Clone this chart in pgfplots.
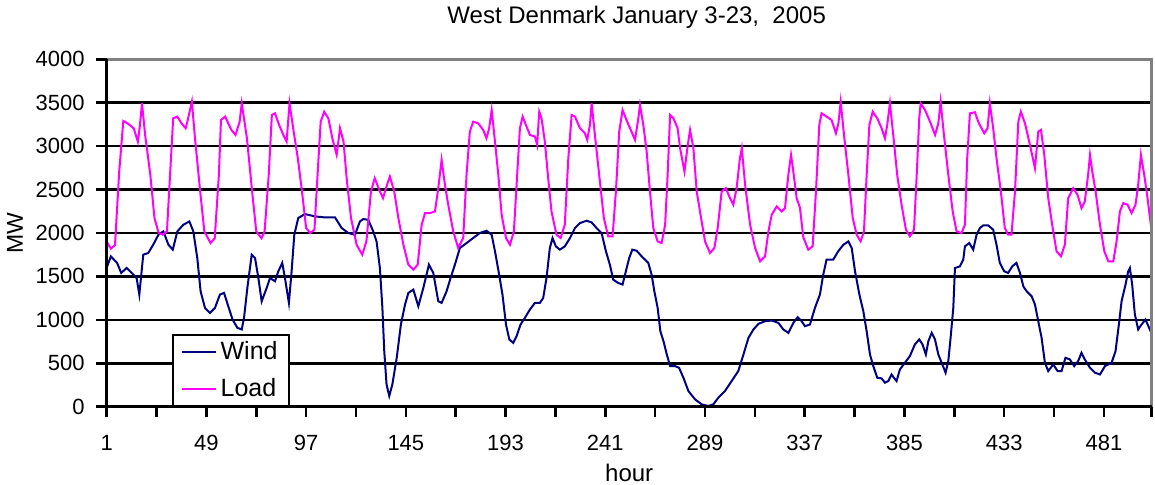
\documentclass[border=0pt]{standalone}
\usepackage{fontspec}
\setmainfont{Liberation Sans}
\usepackage{pgfplots}
\pgfplotsset{compat=1.18}
\definecolor{windc}{RGB}{0,0,128}
\definecolor{loadc}{RGB}{255,0,255}
\definecolor{bordc}{RGB}{128,128,128}

\begin{document}
\begin{tikzpicture}
\begin{axis}[
  scale only axis, width=522.5pt, height=173.7pt,
  xmin=1, xmax=504, ymin=0, ymax=4000,
  clip=false,
  axis line style={draw=none},
  xtick={1,25,...,481,504},
  xticklabels={1,,49,,97,,145,,193,,241,,289,,337,,385,,433,,481,},
  ytick={0,500,...,4000},
  xtick pos=bottom, ytick pos=left,
  tick align=outside, major tick length=5.25pt,
  tick style={black, line width=1.3pt},
  ymajorgrids, grid style={black, line width=1.3pt},
  /pgf/number format/assume math mode=true,
  /pgf/number format/1000 sep={},
  tick label style={font=\fontsize{11}{13}\selectfont},
  yticklabel style={inner sep=0pt, anchor=east, xshift=-5.6pt},
  xticklabel style={inner sep=0pt, anchor=north, yshift=-9pt},
  legend cell align=left,
  legend style={at={(rel axis cs:0.0628,0)}, anchor=south west,
    draw=black, line width=1pt, fill=white,
    font=\fontsize{12.5}{14}\selectfont,
    inner xsep=3.85pt, inner ysep=1pt, row sep=4pt},
  legend image code/.code={\draw[#1, line width=1.1pt] (0pt,0pt) -- (16.7pt,0pt);},
]
\addplot[windc, line width=1pt] coordinates {
(1,1600)(3,1731)(6,1655)(8,1540)(10.6,1597)(13,1540)(15.4,1482)(16.7,1291)(18.6,1750)(21,1770)
(23.4,1865)(25.9,1980)(28.3,2018)(30.7,1865)(32.8,1808)(35,2018)(37.9,2095)(40.8,2133)(42.7,2018)(44.6,1712)
(46.2,1329)(48.3,1137)(50.7,1080)(53.1,1137)(55.5,1291)(57.5,1310)(59.5,1157)(61.6,1003)(63.9,908)(66,889)
(67.1,1023)(68.7,1367)(70.8,1750)(72.4,1712)(74,1482)(75.6,1214)(78,1367)(79.6,1482)(82,1444)(83.6,1559)
(85.5,1655)(86.8,1482)(88.7,1195)(90,1559)(91.3,1980)(93.2,2172)(96.4,2218)(101.3,2191)(106.1,2179)(110.9,2179)
(114.1,2057)(117.3,2000)(120.5,1980)(122.9,2133)(124.5,2160)(126.9,2152)(129.3,2018)(130.9,1903)(132.5,1597)(133.7,1137)
(134.6,640)(135.7,257)(137,123)(138.5,257)(140.6,563)(142.6,946)(144.6,1176)(146.2,1310)(148.6,1348)(151,1157)
(153.4,1367)(156.1,1635)(158.2,1540)(160.6,1214)(162.2,1195)(164.6,1329)(166.5,1480)(168.6,1635)(171,1827)(174.2,1884)
(177.4,1942)(180.6,2000)(183.8,2026)(186.3,1980)(187.9,1789)(189.9,1520)(191.5,1291)(193.2,946)(194.8,774)(196.7,735)
(198.3,812)(200.2,946)(202.3,1023)(204.7,1118)(207.1,1195)(209.5,1195)(211.1,1252)(212.7,1482)(214.3,1827)(215.6,1942)
(217.2,1846)(219.1,1808)(221.5,1846)(224,1942)(226.4,2057)(228.8,2114)(232,2141)(234.4,2122)(236.8,2057)(239.2,2000)
(241.3,1789)(243.2,1635)(244.8,1463)(247.2,1425)(249.3,1406)(250.9,1559)(252.5,1712)(254,1808)(256.1,1796)(258.5,1731)
(261.7,1655)(263.3,1520)(264.6,1329)(266.2,1137)(267.5,869)(269,754)(270.6,601)(272.2,467)(274.6,467)(276.5,448)
(278.6,333)(281,180)(284.2,84)(287.4,27)(290.6,8)(293,27)(295.4,103)(298.6,180)(301.8,295)(305,410)
(307.5,601)(309.9,793)(312.3,889)(314.7,954)(317.9,984)(321.1,992)(324.3,965)(326.7,889)(329.1,850)(331.5,965)
(333.6,1030)(335.5,984)(337.1,927)(339.5,946)(341.9,1137)(344.3,1291)(345.9,1520)(347.5,1693)(350.7,1693)(353.1,1789)
(355.6,1865)(358,1903)(359.6,1827)(361.2,1559)(363.3,1291)(365.2,1099)(366.8,869)(368.4,601)(370,467)(371.9,333)
(374,326)(375.6,276)(377.2,295)(378.8,371)(379.9,333)(381.2,295)(382.8,429)(385.2,506)(387.6,582)(390,716)
(392.1,774)(393.7,716)(395.3,601)(396.5,754)(398.1,850)(399.7,774)(401.3,601)(402.9,506)(404.8,391)(406.1,525)
(407.2,793)(408.5,1137)(409.3,1597)(411.7,1616)(413.3,1693)(414.1,1846)(416.2,1884)(418.1,1808)(419.7,1980)(421.3,2057)
(422.9,2087)(425.3,2087)(427.7,2038)(429.3,1865)(430.9,1655)(433,1559)(434.9,1540)(436.9,1616)(438.9,1655)(440.6,1540)
(442.2,1386)(443.8,1329)(446.2,1272)(447.8,1176)(449.4,984)(451,793)(452.6,506)(454.2,410)(456.6,486)(458.7,410)
(460.6,410)(462.5,563)(464.6,544)(466.7,467)(468.6,525)(470.2,620)(471.8,544)(474.3,448)(476.7,391)(479.1,371)
(481.5,467)(484.7,506)(486.6,640)(488.2,946)(489.5,1214)(491.4,1406)(492.7,1559)(493.5,1597)(494.6,1406)(495.9,1061)
(497.5,889)(499.1,946)(501,1003)(503.1,889)(504,840)
};
\addlegendentry{Wind}
\addplot[loadc, line width=1pt] coordinates {
(1,1900)(3,1820)(5,1860)(7,2700)(9,3290)(11,3263)(14,3206)(16,3052)(17,3244)(18,3493)
(19.5,3129)(22,2670)(24,2172)(26,2000)(28,1980)(30,2018)(31.5,2670)(33,3320)(35,3340)(37,3263)
(39,3206)(40,3300)(42,3512)(43.5,3091)(46,2478)(48,2018)(51,1884)(53,1940)(55,2670)(56,3301)
(58,3340)(61,3187)(63,3129)(65,3282)(66,3493)(68.5,3091)(71,2478)(73,2018)(75.5,1940)(77,2018)
(79,2670)(80.5,3359)(82,3378)(84,3244)(86,3129)(87.6,3052)(89,3493)(91,3167)(93,2861)(95,2478)
(97,2057)(99,2000)(101,2038)(102.5,2670)(104,3282)(105.7,3397)(107.7,3320)(109.6,3091)(111.7,2899)(113.3,3206)
(115,3052)(116.5,2631)(118.6,2172)(121.3,1865)(124,1750)(126,1903)(128.2,2478)(130,2631)(132.5,2478)(134,2401)
(135.4,2516)(137.3,2650)(139.4,2478)(141.4,2172)(143.8,1865)(146.2,1635)(148.6,1578)(150.7,1635)(152.6,2095)(154.2,2229)
(156.6,2229)(159,2248)(160.6,2516)(162.2,2842)(163.8,2555)(165.4,2325)(167.8,2018)(170.2,1827)(172.6,1942)(174.2,2670)
(175.8,3167)(177.4,3282)(179.8,3263)(182.2,3187)(183.8,3091)(185.1,3206)(186.3,3416)(187.9,3052)(189.5,2670)(191.1,2210)
(193.2,1942)(195.1,1865)(197,2018)(198.3,2555)(199.9,3206)(201.2,3340)(202.8,3244)(204.7,3129)(207.1,3110)(208.2,3014)
(209.2,3397)(210.3,3320)(211.9,3052)(213.5,2631)(215.1,2248)(217.5,1980)(219.5,1942)(221.5,2095)(223.2,2861)(224.8,3359)
(226.4,3340)(228.8,3206)(231.2,3148)(232.3,3072)(233.6,3244)(234.4,3493)(236,3129)(238.4,2593)(240.3,2172)(242.4,1961)
(244.5,1961)(246.1,2478)(247.7,3167)(249.3,3416)(251.2,3301)(252.9,3206)(255.3,3072)(256.9,3320)(257.7,3474)(259.3,3244)
(260.9,2938)(262.5,2478)(264.1,2057)(266.2,1903)(268.1,1884)(269.8,2095)(271,2670)(272.2,3359)(273.8,3320)(275.8,3206)
(277,2976)(279.1,2708)(280.7,3014)(281.8,3187)(283.4,2976)(285,2478)(287.1,2172)(289,1903)(291.4,1770)(293.5,1827)
(295.1,2057)(297,2478)(299,2516)(301,2401)(302.6,2325)(304.2,2516)(305.8,2861)(306.7,2976)(308.3,2555)(310.7,2095)
(313.1,1827)(315.5,1674)(317.9,1731)(319.5,2018)(321.1,2210)(323.5,2306)(325.9,2248)(327.5,2287)(329.1,2670)(330.4,2899)
(331.5,2708)(333.1,2401)(334.7,2290)(336.3,1950)(338.7,1808)(340.8,1846)(342.4,2478)(344,3244)(345.1,3378)(347.5,3340)
(349.9,3301)(352,3148)(353.2,3263)(354.3,3512)(355.9,3129)(358,2670)(360.1,2172)(362,1980)(363.9,1903)(365.5,2018)
(366.8,2670)(368.1,3244)(369.7,3397)(371.9,3320)(374,3206)(375.6,3091)(376.7,3244)(378,3493)(379.6,3129)(381.5,2670)
(383.6,2325)(385.7,2038)(387.6,1961)(389.6,2038)(390.9,2670)(392.1,3320)(392.8,3493)(394.9,3416)(397.3,3282)(399.7,3129)
(401.3,3263)(402.4,3512)(404,3129)(406.1,2670)(408.2,2248)(410.1,2018)(412.5,2000)(414.1,2095)(415.2,2861)(416.5,3378)
(418.9,3390)(420.8,3263)(423.4,3148)(425,3206)(426.1,3493)(427.7,3206)(429.3,2861)(431.4,2478)(433.3,2057)(434.9,1980)
(436.5,1980)(438.2,2478)(439.8,3282)(441,3397)(443,3263)(445.4,3014)(447.8,2746)(449.4,3167)(450.7,3187)(452.3,2899)
(454.2,2401)(456.1,2095)(458.2,1789)(460.3,1731)(462.2,1865)(463.8,2401)(466.2,2516)(468.3,2440)(470.2,2287)(471.8,2363)
(473.4,2670)(474.3,2899)(475.4,2708)(477,2478)(479.1,2095)(481.2,1789)(483.1,1674)(485.5,1674)(487.1,1903)(488.7,2248)
(490.3,2344)(492.4,2325)(494.3,2229)(496.2,2325)(497.5,2555)(498.8,2899)(500.4,2670)(502,2401)(504,2018)
};
\addlegendentry{Load}
\draw[line width=1.3pt, bordc] (rel axis cs:0,1) -- (rel axis cs:1,1) -- (rel axis cs:1,0);
\draw[line width=1.3pt, black] (rel axis cs:0,1) -- (rel axis cs:0,0) -- (rel axis cs:1,0);
\end{axis}
\node[anchor=base, font=\fontsize{12}{14}\selectfont] at ([xshift=3.75pt,yshift=18pt]current axis.north) {West Denmark January 3-23,\ \ 2005};
\node[rotate=90, font=\fontsize{11.5}{13}\selectfont] at ([xshift=-45.85pt]current axis.west) {MW};
\node[anchor=base, font=\fontsize{12}{14}\selectfont] at ([yshift=-37.65pt]current axis.south) {hour};
\pgfresetboundingbox
\path[use as bounding box] ([xshift=-53.35pt,yshift=-39.15pt]current axis.south west) rectangle ([xshift=1.65pt,yshift=29.65pt]current axis.north east);
\end{tikzpicture}
\end{document}
